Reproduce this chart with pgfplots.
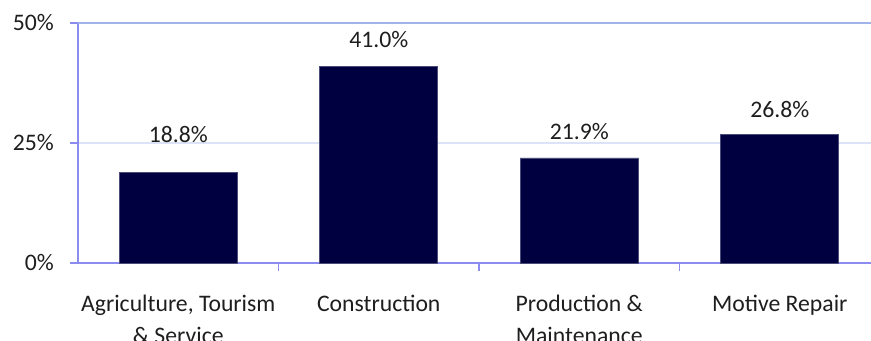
\documentclass[border=0pt]{standalone}
\usepackage{pgfplots}
\pgfplotsset{compat=1.18}
\usepackage{fontspec}
\setmainfont{Carlito}
\definecolor{barnavy}{HTML}{000040}
\definecolor{axisblue}{HTML}{8C8CF0}
\definecolor{topblue}{HTML}{A0B4EA}
\definecolor{gridlight}{HTML}{DDE3F6}
\definecolor{txt}{HTML}{1E1E1E}
\begin{document}
\begin{tikzpicture}
\useasboundingbox (-78bp,-78bp) rectangle (793bp,263bp);
\begin{axis}[
  at={(0,0)}, anchor=south west,
  scale only axis,
  width=793bp, height=240bp,
  xmin=-0.5, xmax=3.455,
  ymin=0, ymax=50,
  axis x line*=bottom, axis y line*=left,
  axis line style={color=axisblue, line width=1.3bp},
  font=\fontsize{23.7bp}{32bp}\selectfont,
  /pgf/number format/assume math mode=true,
  xtick={0,1,2,3},
  xticklabels={{\rule{0pt}{21bp}Agriculture, Tourism\\\& Service},{\rule{0pt}{21bp}Construction},{\rule{0pt}{21bp}Production \&\\Maintenance},{\rule{0pt}{21bp}Motive Repair}},
  xticklabel style={align=center, anchor=north, yshift=-19.5bp, text=txt, inner sep=0pt},
  major x tick style={draw=none},
  minor xtick={0.5,1.5,2.5},
  minor x tick style={color=axisblue, line width=1.3bp},
  minor tick length=8bp,
  major tick length=8bp,
  tick align=outside,
  ytick={0,25},
  yticklabels={0\%,25\%},
  extra y ticks={50},
  extra y tick labels={50\%},
  extra y tick style={major grid style={color=topblue, line width=2bp}},
  ytick style={color=axisblue, line width=1.3bp},
  yticklabel style={anchor=east, inner sep=0pt, xshift=-16bp, text=txt},
  ymajorgrids,
  major grid style={color=gridlight, line width=2bp},
  clip=false,
]
\addplot[ybar, bar width=118bp, fill=barnavy, draw=barnavy!70!white, line width=0.6bp,
  visualization depends on={\thisrow{dy} \as \dy},
  nodes near coords={\pgfmathprintnumber[fixed,fixed zerofill,precision=1]{\pgfplotspointmeta}\%},
  nodes near coords style={anchor=base, inner sep=0pt, yshift=\dy bp, text=txt},
] table[x=x, y=y] {
x y dy
0 18.8 30
1 41.0 19
2 21.9 18
3 26.8 17
};
\end{axis}
\end{tikzpicture}
\end{document}
